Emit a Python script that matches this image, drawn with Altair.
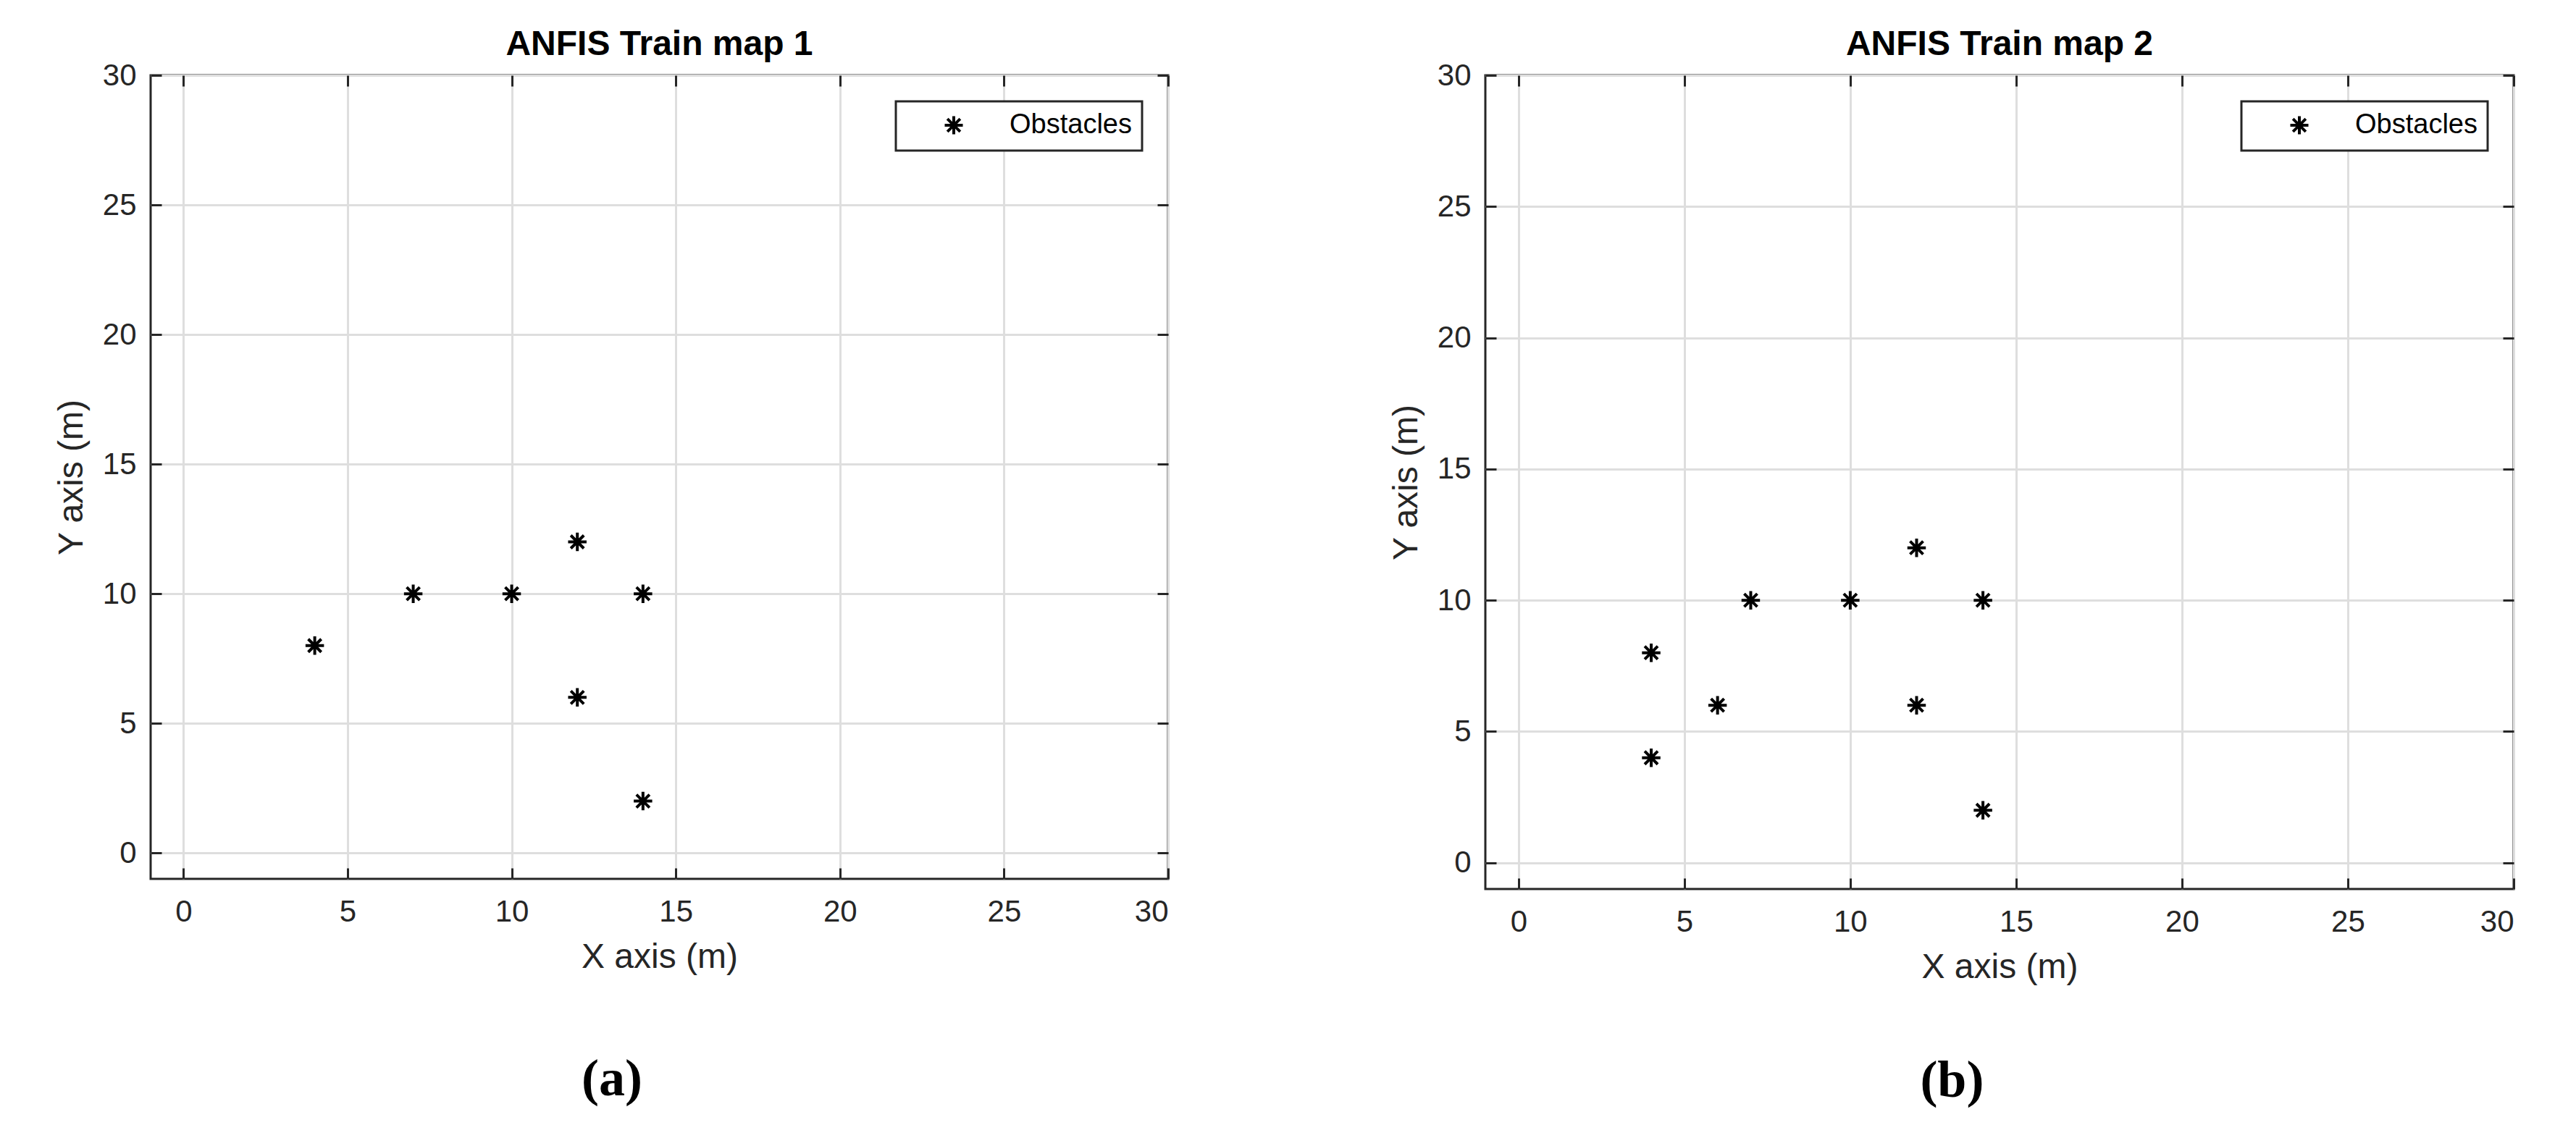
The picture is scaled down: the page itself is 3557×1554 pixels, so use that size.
import altair as alt
import pandas as pd

# ---- data ----
map1_x = [4, 7, 10, 12, 14, 12, 14]
map1_y = [8, 10, 10, 12, 10, 6, 2]
map2_x = [4, 4, 6, 7, 10, 12, 14, 12, 14]
map2_y = [8, 4, 6, 10, 10, 12, 10, 6, 2]
panel_titles = ["ANFIS Train map 1", "ANFIS Train map 2"]
captions = ["(a)", "(b)"]
tick_values = [0, 5, 10, 15, 20, 25, 30]
axis_domain = [-1, 30]
series_name = "Obstacles"
x_title = "X axis (m)"
y_title = "Y axis (m)"

STAR = "M0,-1L0,1M-1,0L1,0M-0.707,-0.707L0.707,0.707M-0.707,0.707L0.707,-0.707"
INK = "#262626"
FONT = "Liberation Sans"


def panel(xs, ys, title, w, h):
    df = pd.DataFrame({"x": xs, "y": ys, "s": [series_name] * len(xs)})
    xs_ = alt.Scale(domain=axis_domain, nice=False, zero=False)
    ys_ = alt.Scale(domain=axis_domain, nice=False, zero=False)
    base = alt.Chart(df)

    main_axis = dict(values=tick_values, grid=True, gridColor="#dedede", gridWidth=3,
                     ticks=False, domain=False, labelFont=FONT, labelFontSize=42,
                     labelColor=INK, titleFont=FONT, titleFontSize=48,
                     titleFontWeight="normal", titleColor=INK)
    leg = alt.Legend(title=None, orient="top-right", offset=36, padding=14,
                     strokeColor=INK, fillColor="white", labelLimit=0,
                     labelFont=FONT, labelFontSize=38, labelColor="black",
                     symbolSize=625, symbolStrokeWidth=4, symbolOffset=47,
                     labelOffset=58, symbolType=STAR)
    main = base.mark_point(filled=False, strokeWidth=4, size=650, opacity=1).encode(
        x=alt.X("x:Q", scale=xs_, axis=alt.Axis(title=x_title, labelPadding=25,
                                                titlePadding=18, **main_axis)),
        y=alt.Y("y:Q", scale=ys_, axis=alt.Axis(title=y_title, labelPadding=20,
                                                titlePadding=18, **main_axis)),
        color=alt.Color("s:N", scale=alt.Scale(range=["black"]), legend=leg),
        shape=alt.Shape("s:N", scale=alt.Scale(range=[STAR]), legend=leg),
    )
    tick_axis = dict(values=tick_values, labels=False, domain=False, grid=False,
                     ticks=True, tickSize=15, tickWidth=3, tickColor=INK,
                     offset=-15, title=None)
    lb = base.mark_point(opacity=0).encode(
        x=alt.X("x:Q", scale=xs_, axis=alt.Axis(orient="bottom", **tick_axis)),
        y=alt.Y("y:Q", scale=ys_, axis=alt.Axis(orient="left", **tick_axis)),
    )
    lt = base.mark_point(opacity=0).encode(
        x=alt.X("x:Q", scale=xs_, axis=alt.Axis(orient="top", **tick_axis)),
        y=alt.Y("y:Q", scale=ys_, axis=alt.Axis(orient="right", **tick_axis)),
    )
    return alt.layer(main, lb, lt).resolve_axis(x="independent", y="independent").properties(
        width=w, height=h,
        title=alt.TitleParams(title, font=FONT, fontSize=48, fontWeight="bold",
                              color="black", offset=-3, frame="group", anchor="middle"),
    )


def captioned(ch, cap, off):
    return alt.hconcat(ch, title=alt.TitleParams(cap, orient="bottom", font="Liberation Serif",
                                                 fontSize=72, fontWeight="bold", color="black",
                                                 anchor="middle", frame="bounds", offset=off)
                       ).resolve_scale(color="independent", shape="independent",
                                       x="independent", y="independent")


left = captioned(panel(map1_x, map1_y, panel_titles[0], 1405, 1110), captions[0], 108)
right = captioned(panel(map2_x, map2_y, panel_titles[1], 1420, 1124), captions[1], 96)

chart = alt.hconcat(left, right, spacing=300).resolve_scale(
    color="independent", shape="independent", x="independent", y="independent"
).properties(
    padding={"left": 65, "top": 28, "right": 10, "bottom": 10}, background="white"
).configure_view(stroke=INK, strokeWidth=3).configure_legend(strokeWidth=3)

chart.save("out.html", embed_options={"renderer": "svg", "actions": False})
